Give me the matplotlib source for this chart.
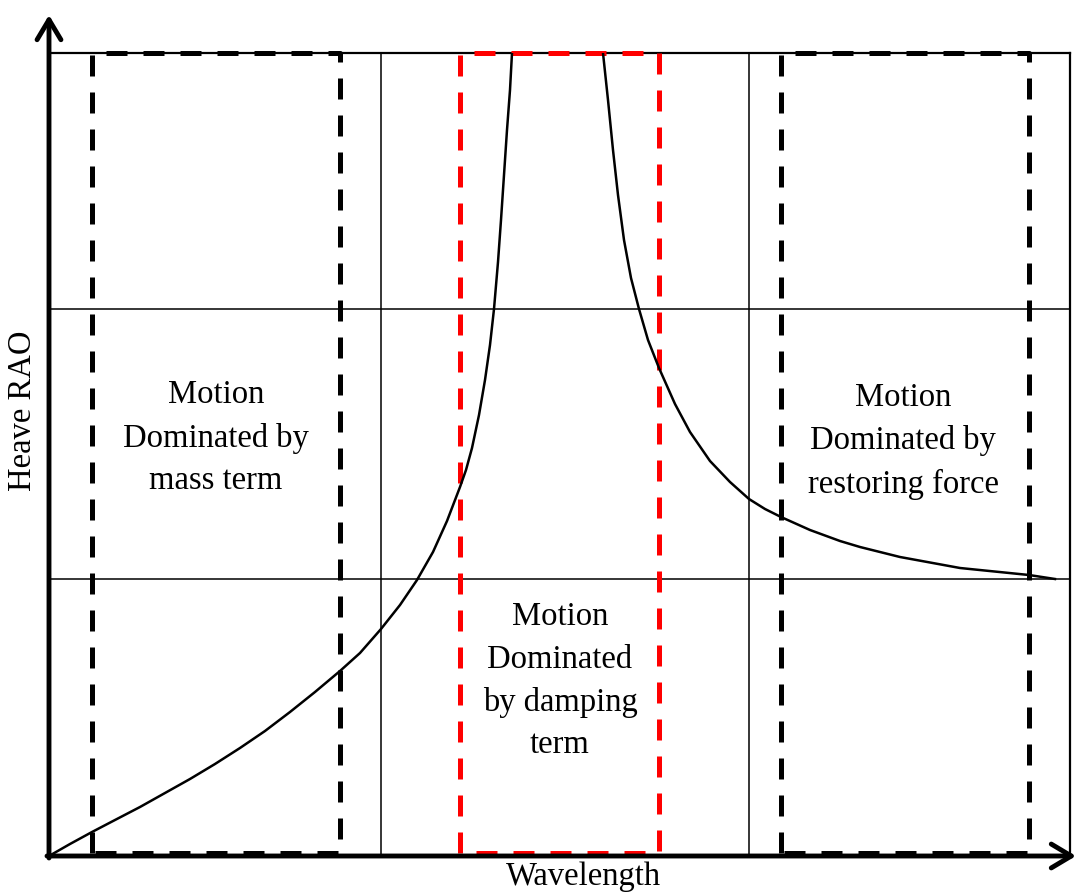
import matplotlib
matplotlib.use("Agg")
import matplotlib.pyplot as plt

plt.rcParams["font.family"] = ["Liberation Serif", "DejaVu Serif"]

# Courbe RAO (unités arbitraires)
left_x = [0, 21, 43, 66, 91, 116, 141, 166, 191, 216, 241, 266, 291, 311,
          332, 351, 368, 384, 398, 411, 417, 423, 430, 436, 441, 445, 449,
          452, 455, 458, 461, 463]
left_y = [0, 12, 24, 36, 49, 63, 77, 92, 108, 125, 144, 164, 185, 203,
          227, 251, 276, 304, 335, 369, 386, 408, 441, 476, 511, 547, 594,
          636, 681, 726, 766, 803]
right_x = [554, 559, 564, 569, 575, 582, 590, 599, 610, 626, 641, 661, 681,
           700, 716, 732, 761, 791, 811, 851, 911, 980, 1006]
right_y = [803, 756, 706, 661, 616, 578, 547, 516, 488, 452, 424, 395, 374,
           357, 347, 339, 326, 315, 309, 299, 288, 281, 277]

grid_x = [332, 700]
grid_y = [277, 547]

# Zones : (x0, x1, couleur)
zones = [(43, 291, "black"), (411, 610, "#ff0000"), (732, 980, "black")]

labels = ["Motion\nDominated by\nmass term",
          "Motion\nDominated\nby damping\nterm",
          "Motion\nDominated by\nrestoring force"]
label_pos = [(167, 418), (511, 175), (854, 415)]

XMAX, YMAX = 1021, 803

fig = plt.figure(figsize=(10.78, 8.93), dpi=100)
ax = fig.add_axes([49 / 1078, 37 / 893, XMAX / 1078, YMAX / 893])
ax.set_xlim(0, XMAX)
ax.set_ylim(0, YMAX)
for s in ax.spines.values():
    s.set_visible(False)
ax.set_xticks([])
ax.set_yticks([])

# cadre fin et grille
ax.plot([0, XMAX], [YMAX, YMAX], color="black", lw=1.6, clip_on=False)
ax.plot([XMAX, XMAX], [0, YMAX], color="black", lw=1.6, clip_on=False)
for gx in grid_x:
    ax.plot([gx, gx], [0, YMAX], color="black", lw=1.1)
for gy in grid_y:
    ax.plot([0, XMAX], [gy, gy], color="black", lw=1.1)

# rectangles pointillés
for x0, x1, c in zones:
    ax.plot([x0, x0, x1, x1, x0], [3, YMAX, YMAX, 3, 3], color=c,
            lw=3.6, dashes=(4.2, 3.2), clip_on=False)

ax.plot(left_x, left_y, color="black", lw=1.8, solid_joinstyle="round")
ax.plot(right_x, right_y, color="black", lw=1.8, solid_joinstyle="round")

# axes avec flèches
arrow = dict(arrowstyle="->,head_length=0.72,head_width=0.43", lw=3.5,
             color="black", mutation_scale=20, shrinkA=0, shrinkB=0)
ax.annotate("", xy=(0, 841), xytext=(0, -2), arrowprops=arrow,
            annotation_clip=False)
ax.annotate("", xy=(1027, 0), xytext=(-2, 0), arrowprops=arrow,
            annotation_clip=False)

for txt, (tx, ty) in zip(labels, label_pos):
    ax.text(tx, ty, txt, ha="center", va="center", fontsize=23.5,
            linespacing=1.51)

fig.text(23 / 1078, 1 - 411 / 893, "Heave RAO", rotation=90, ha="center",
         va="center", fontsize=23.5)
fig.text(583 / 1078, 1 - 877 / 893, "Wavelength", ha="center", va="center",
         fontsize=23.5)

fig.savefig("out.png", dpi=100)
